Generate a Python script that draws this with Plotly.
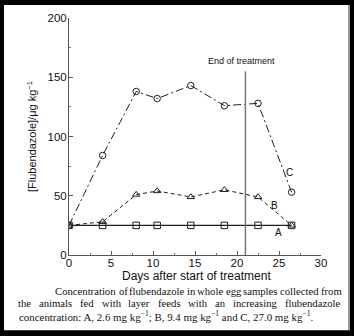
import plotly.graph_objects as go

days = [0, 4, 8, 10.5, 14.5, 18.5, 22.5, 26.5]
conc_a = [25, 25, 25, 25, 25, 25, 25, 25]
conc_b = [25, 28, 51, 54, 49, 55, 49, 25]
conc_c = [25, 84, 138, 132, 143, 126, 128, 53]
end_day = 21
x_ticks = [0, 5, 10, 15, 20, 25, 30]
y_ticks = [0, 50, 100, 150, 200]
caption_lines = [
    "Concentration of flubendazole in whole egg samples collected from",
    "the animals fed with layer feeds with an increasing flubendazole",
    "concentration: A, 2.6 mg kg<sup>−1</sup>; B, 9.4 mg kg<sup>−1</sup> and C, 27.0 mg kg<sup>−1</sup>.",
]

W, H = 354, 336
ML, MR, MT, MB = 69, 33, 16, 81
PW, PH = W - ML - MR, H - MT - MB


def px(x):
    return (x - ML) / PW


def py(y):
    return (H - MB - y) / PH


ink = "#1e1e1e"
fig = go.Figure()
fig.add_trace(go.Scatter(x=days, y=conc_c, mode="lines+markers",
                         line=dict(color=ink, width=1, dash="8px,3px,2px,3px"),
                         marker=dict(symbol="circle-open", size=6.5, color=ink, line=dict(width=1))))
fig.add_trace(go.Scatter(x=days, y=conc_b, mode="lines+markers",
                         line=dict(color=ink, width=1, dash="4px,3px"),
                         marker=dict(symbol="triangle-up-open", size=6.5, color=ink, line=dict(width=1))))
fig.add_trace(go.Scatter(x=days, y=conc_a, mode="lines+markers",
                         line=dict(color=ink, width=1.2),
                         marker=dict(symbol="square-open", size=6.5, color=ink, line=dict(width=1))))
fig.add_trace(go.Scatter(x=[end_day, end_day], y=[0, 155], mode="lines",
                         line=dict(color="#777", width=1.5)))

axfont = dict(family="Liberation Sans, Arial", size=11.5, color="#111")
fig.update_xaxes(range=[0, 30], tickvals=x_ticks, showline=True, linecolor="#555", linewidth=1,
                 ticks="inside", ticklen=4, tickcolor="#555", showgrid=False, zeroline=False,
                 tickfont=axfont, minor=dict(ticks="inside", ticklen=2, dtick=2.5, tickcolor="#777"))
fig.update_yaxes(range=[0, 200], tickvals=y_ticks, showline=True, linecolor="#555", linewidth=1,
                 ticks="inside", ticklen=4, tickcolor="#555", showgrid=False, zeroline=False,
                 tickfont=axfont, minor=dict(ticks="inside", ticklen=2, dtick=25, tickcolor="#777"),
                 title=dict(text="[Flubendazole]/μg kg<sup>−1</sup>",
                            font=dict(family="Liberation Sans, Arial", size=11, color="#111"), standoff=8))
try:
    fig.update_xaxes(ticklabelstandoff=-3)
    fig.update_yaxes(ticklabelstandoff=-1)
except Exception:
    pass

small = dict(family="Liberation Sans, Arial", size=9, color="#111")
lab = dict(family="Liberation Sans, Arial", size=10, color="#111")
anns = [
    dict(x=20.5, y=158, text="End of treatment", font=small, showarrow=False, xanchor="center", yanchor="bottom"),
    dict(x=26.2, y=70, text="C", font=lab, showarrow=False),
    dict(x=24.5, y=42, text="B", font=lab, showarrow=False),
    dict(x=24.9, y=19, text="A", font=lab, showarrow=False),
    dict(xref="paper", yref="paper", x=px(196), y=py(276), text="Days after start of treatment",
         font=dict(family="Liberation Sans, Arial", size=12, color="#111"),
         showarrow=False, xanchor="center", yanchor="middle"),
]

# Times / Liberation Serif advance widths (per 1000 em) for justification
TW = {' ': 250, ',': 250, '.': 250, ':': 278, ';': 278, 'a': 444, 'b': 500, 'c': 444, 'd': 500,
      'e': 444, 'f': 333, 'g': 500, 'h': 500, 'i': 278, 'j': 278, 'k': 500, 'l': 278, 'm': 778,
      'n': 500, 'o': 500, 'p': 500, 'q': 500, 'r': 333, 's': 389, 't': 278, 'u': 500, 'v': 500,
      'w': 722, 'x': 500, 'y': 500, 'z': 444, 'C': 667, 'A': 722, 'B': 667}
FSJ = 10.7


def wwidth(w):
    return sum(TW.get(ch, 500) for ch in w) * FSJ / 1000 * 1.03


def justify(text, x0, x1, yy):
    words = text.split(" ")
    widths = [wwidth(w) for w in words]
    gap = (x1 - x0 - sum(widths)) / (len(words) - 1)
    x = x0
    for w, wd in zip(words, widths):
        anns.append(dict(xref="paper", yref="paper", x=px(x), y=py(yy), text=w,
                         font=dict(family="Liberation Serif, Times New Roman", size=FSJ, color="#111"),
                         showarrow=False, xanchor="left", yanchor="middle", xshift=-1))
        x += wd + gap


justify(caption_lines[0], 54, 341, 291.5)
justify(caption_lines[1], 17, 341, 303.5)
anns.append(dict(xref="paper", yref="paper", x=px(17), y=py(316.5), text=caption_lines[2],
                 font=dict(family="Liberation Serif, Times New Roman", size=10.9, color="#111"),
                 showarrow=False, xanchor="left", yanchor="middle"))
fig.update_layout(annotations=anns)

fig.add_shape(type="rect", xref="paper", yref="paper", x0=px(4), x1=px(348), y0=py(331), y1=py(3),
              fillcolor="white", line=dict(width=0), layer="below")
fig.add_shape(type="line", xref="paper", yref="paper", x0=px(349), x1=px(349), y0=py(331), y1=py(3),
              line=dict(color="#999", width=2), layer="below")

fig.update_layout(width=W, height=H, margin=dict(l=ML, r=MR, t=MT, b=MB),
                  paper_bgcolor="black", plot_bgcolor="rgba(0,0,0,0)", showlegend=False)
fig.write_html("out.html")
